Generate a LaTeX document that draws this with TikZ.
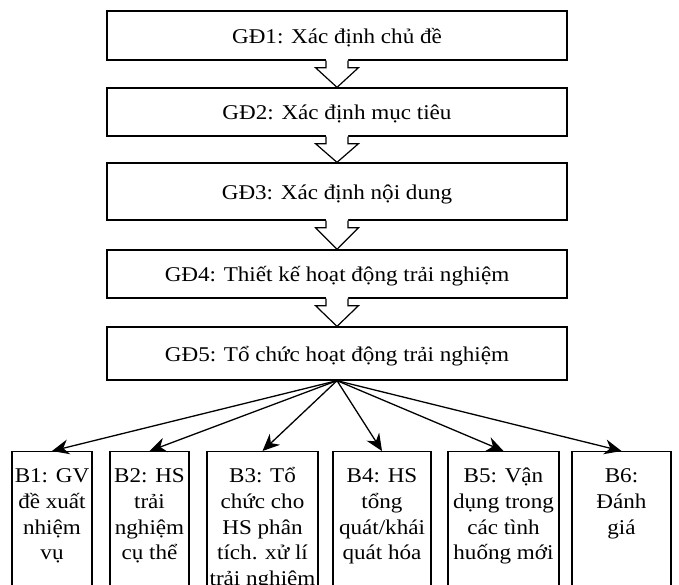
\documentclass[tikz,border=0pt]{standalone}
\usepackage{fontspec}
\setmainfont[FakeStretch=1.1]{Liberation Serif}
\usetikzlibrary{arrows.meta, calc}

\begin{document}
\begin{tikzpicture}[x=1pt, y=-1pt,
        stage/.style={draw, line width=1.3pt, minimum width=460pt, inner sep=0pt, text height=15pt, text depth=0pt, font=\fontsize{21}{25.7}\selectfont},
        task/.style={draw, line width=1.3pt, anchor=north, inner xsep=0pt, inner ysep=13pt, font=\fontsize{21}{25.7}\selectfont}]
        \useasboundingbox (0,0) rectangle (679,584);
        \clip (0,0) rectangle (679,584);
        \foreach \i/\y/\h/\txt in {1/35.5/49/{GĐ1: Xác định chủ đề}, 2/112/48/{GĐ2: Xác định mục tiêu},
                3/191.5/57/{GĐ3: Xác định nội dung}, 4/274/48/{GĐ4: Thiết kế hoạt động trải nghiệm},
                5/353.5/53/{GĐ5: Tổ chức hoạt động trải nghiệm}} {
                \node[stage, minimum height=\h pt] (g\i) at (337,\y) {\txt};
            }
        \foreach \a/\b in {g1/g2, g2/g3, g3/g4, g4/g5} {
                \fill[white] let \p1=(\a.south), \p2=(\b.north) in
                    (\x1-11pt,\y1+2pt) -- (\x1-11pt,\y1-7pt) -- (\x1-21.5pt,\y1-7pt) -- (\x2,\y2)
                    -- (\x1+21.5pt,\y1-7pt) -- (\x1+11pt,\y1-7pt) -- (\x1+11pt,\y1+2pt) -- cycle;
                \draw[line width=1.2pt] let \p1=(\a.south), \p2=(\b.north) in
                    (\x1-11pt,\y1) -- (\x1-11pt,\y1-7pt) -- (\x1-21.5pt,\y1-7pt) -- (\x2,\y2)
                    -- (\x1+21.5pt,\y1-7pt) -- (\x1+11pt,\y1-7pt) -- (\x1+11pt,\y1);
            }
        \foreach \i/\x/\w/\txt in {1/52/80/{B1: GV\\đề xuất\\nhiệm\\vụ}, 2/149.5/79/{B2: HS\\trải\\nghiệm\\cụ thể},
                3/262.5/111/{B3: Tổ\\chức cho\\HS phân\\tích. xử lí\\trải nghiệm}, 4/382/98/{B4: HS\\tổng\\quát/khái\\quát hóa},
                5/503.5/111/{B5: Vận\\dụng trong\\các tình\\huống mới}, 6/621.5/99/{B6:\\Đánh\\giá}} {
                \node[task, minimum width=\w pt] (b\i) at (\x,451) {\parbox[t][130pt][t]{\w pt}{\centering\strut\txt}};
                \draw[-{Stealth[length=17pt,width=15pt]}, line width=1.3pt] (g5.south) -- (b\i.north);
            }
    \end{tikzpicture}
\end{document}
